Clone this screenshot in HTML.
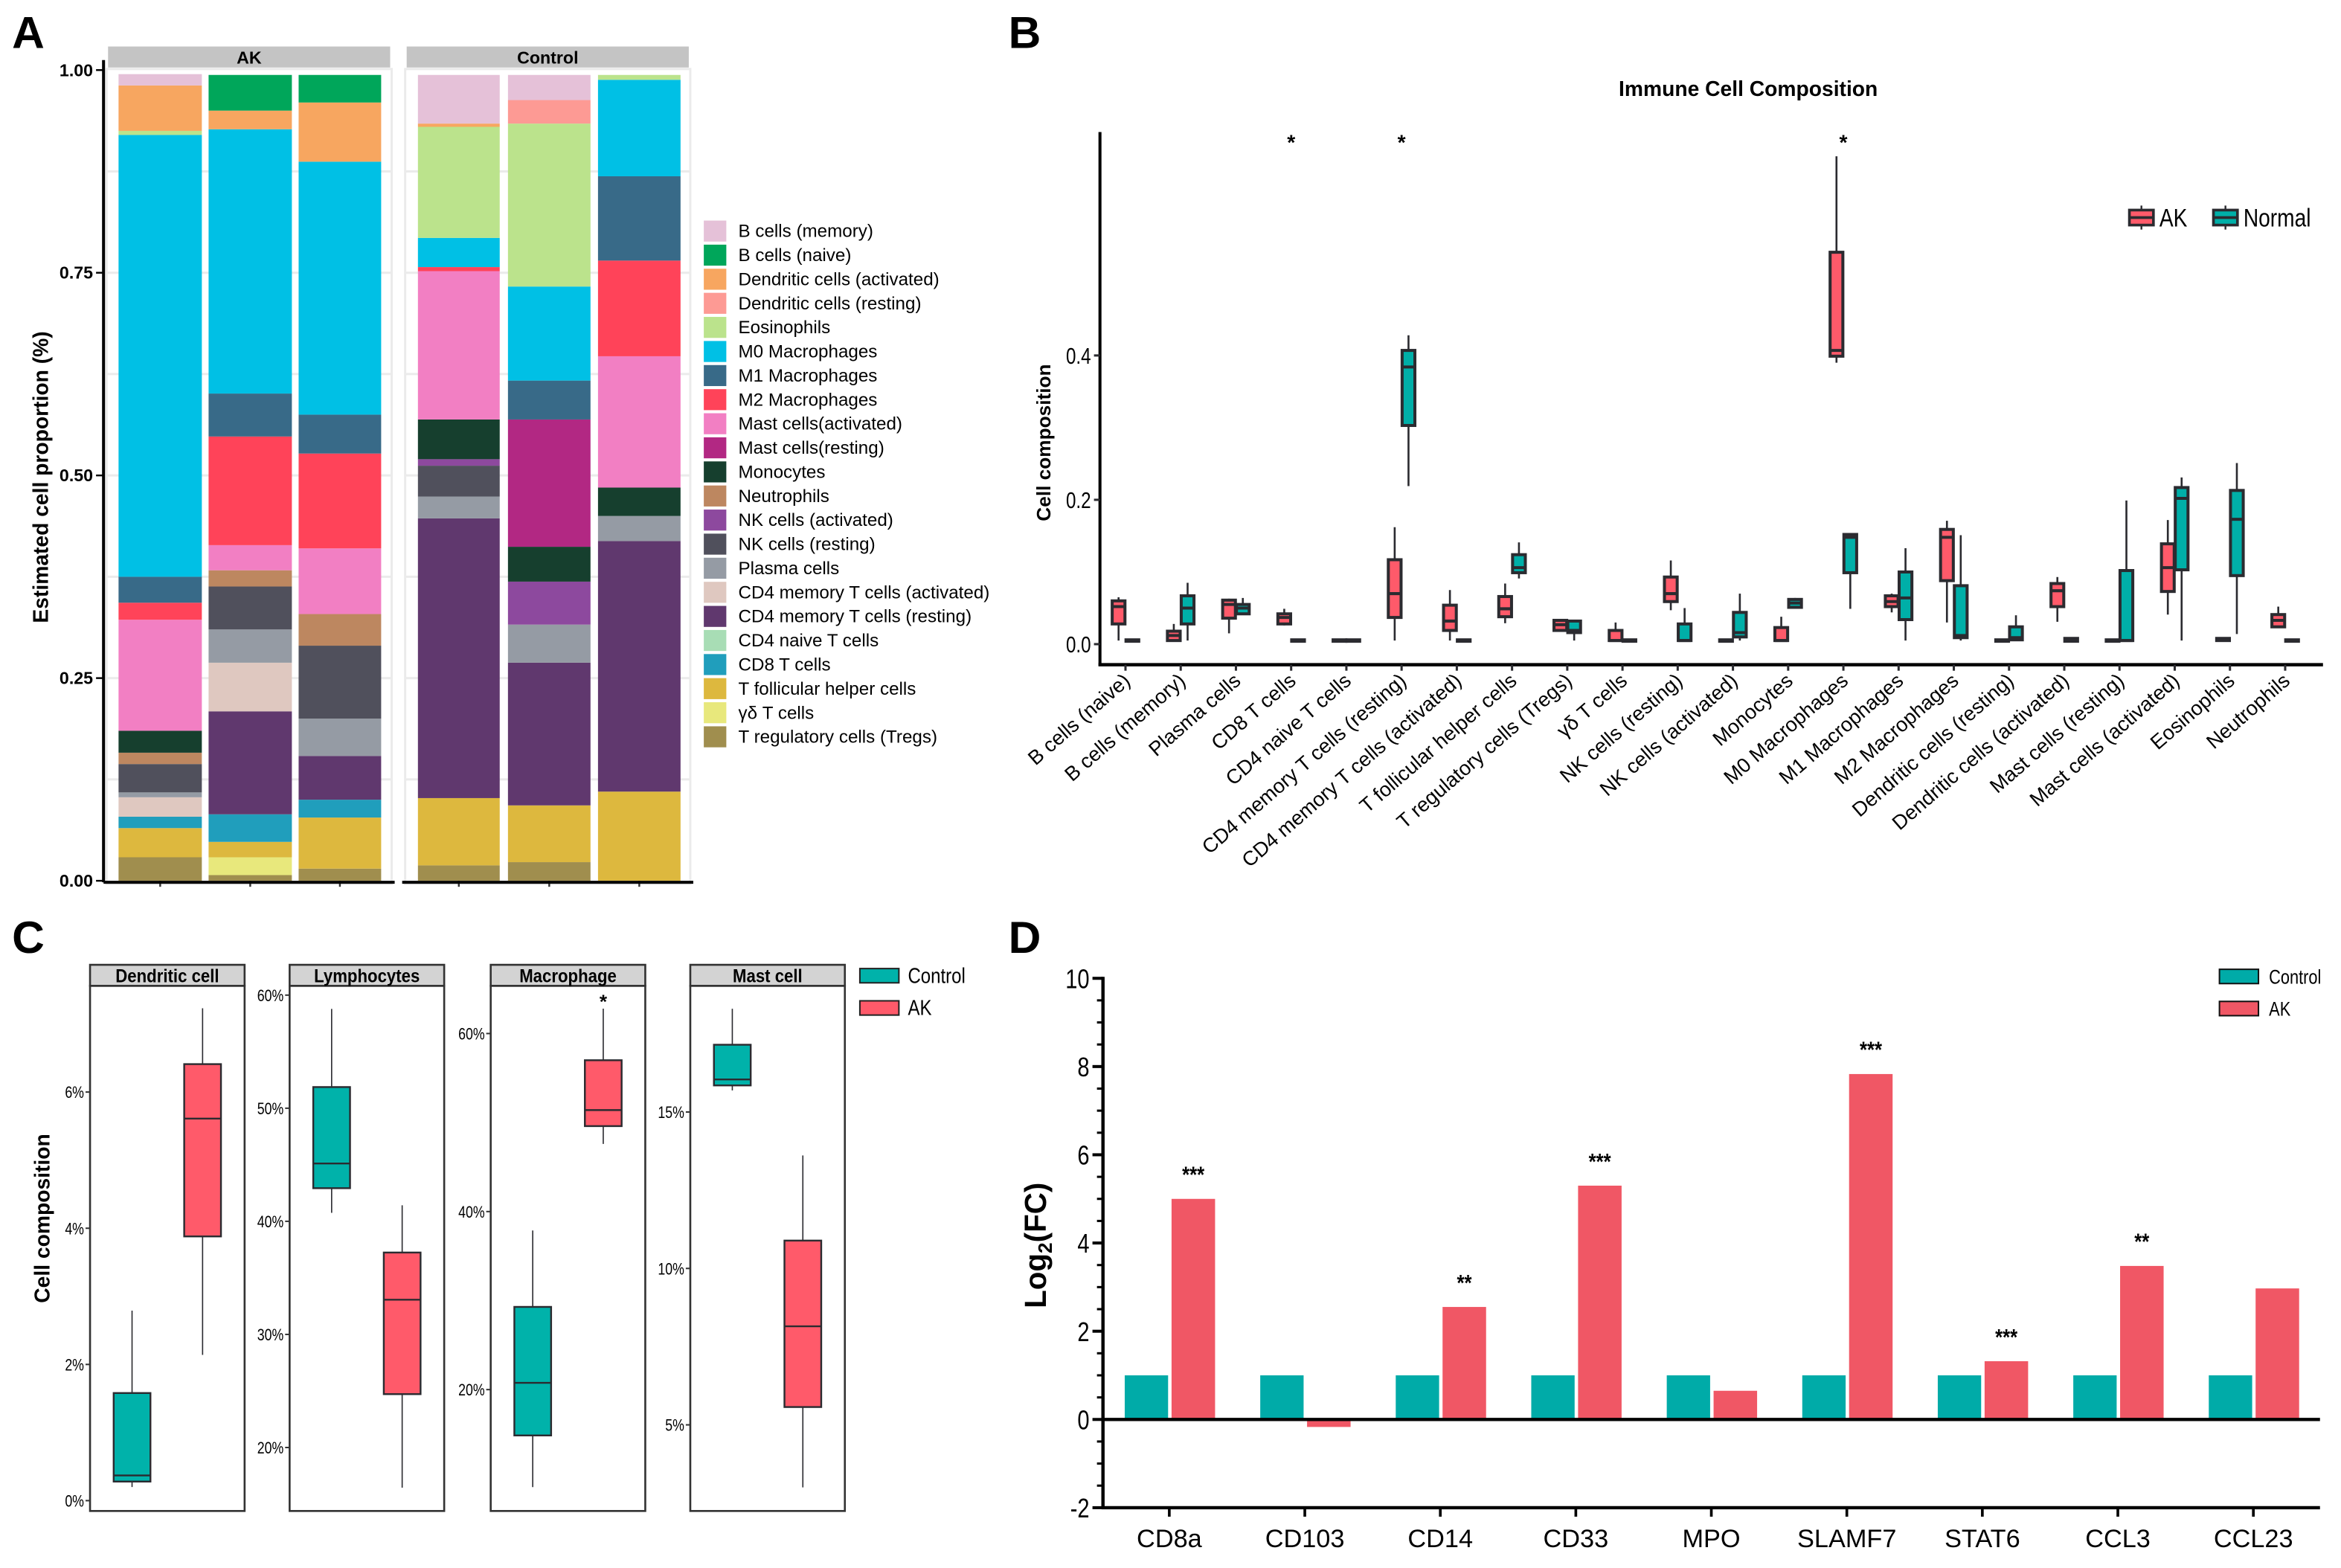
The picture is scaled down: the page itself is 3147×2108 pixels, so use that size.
<!DOCTYPE html>
<html><head><meta charset="utf-8"><title>Immune cell figure</title>
<style>
html,body{margin:0;padding:0;background:#fff;}
svg{display:block;font-family:"Liberation Sans",sans-serif;}
</style></head>
<body>
<svg id="fig" xmlns="http://www.w3.org/2000/svg" width="3147" height="2108" viewBox="0 0 1560 1045" preserveAspectRatio="none"></svg>
<script>
// ---------- Panel A data ----------
const cellTypes = ["B cells (memory)","B cells (naive)","Dendritic cells (activated)","Dendritic cells (resting)","Eosinophils","M0 Macrophages","M1 Macrophages","M2 Macrophages","Mast cells(activated)","Mast cells(resting)","Monocytes","Neutrophils","NK cells (activated)","NK cells (resting)","Plasma cells","CD4 memory T cells (activated)","CD4 memory T cells (resting)","CD4 naive T cells","CD8 T cells","T follicular helper cells","γδ T cells","T regulatory cells (Tregs)"];
const cellColors = ["#E5C1D8","#00A65A","#F7A660","#FD9A94","#BBE38C","#00C0E5","#386A88","#FF4359","#F27FC3","#B22883","#163F2E","#BD8760","#8D499E","#50505C","#959BA4","#DFC8C0","#60386E","#A8DDB5","#209EBC","#DDB83E","#E8E87C","#A08E4E"];
const sampleAK1 = [0.014,0,0.056,0,0.005,0.545,0.032,0.021,0.137,0,0.027,0.014,0,0.035,0.006,0.024,0,0,0.014,0.036,0,0.029];
const sampleAK2 = [0,0.044,0.023,0,0,0.326,0.053,0.134,0.031,0,0,0.020,0,0.053,0.041,0.060,0.127,0,0.034,0.019,0.022,0.007];
const sampleAK3 = [0,0.034,0.073,0,0,0.312,0.048,0.117,0.081,0,0,0.039,0,0.090,0.046,0,0.054,0,0.022,0.063,0,0.015];
const sampleC1 = [0.060,0,0.004,0,0.137,0.036,0,0.005,0.183,0,0.049,0,0.008,0.038,0.027,0,0.345,0,0,0.083,0,0.019];
const sampleC2 = [0.031,0,0,0.029,0.201,0.116,0.048,0,0,0.157,0.043,0,0.053,0,0.047,0,0.176,0,0,0.070,0,0.023];
const sampleC3 = [0,0,0,0,0.006,0.119,0.104,0.118,0.162,0,0.035,0,0,0,0.031,0,0.309,0,0,0.110,0,0];
const yTicksA = [0,0.25,0.5,0.75,1];
const yTickLabelsA = ["0.00","0.25","0.50","0.75","1.00"];

// ---------- Panel B data ----------
const catsB = ["B cells (naive)","B cells (memory)","Plasma cells","CD8 T cells","CD4 naive T cells","CD4 memory T cells (resting)","CD4 memory T cells (activated)","T follicular helper cells","T regulatory cells (Tregs)","γδ T cells","NK cells (resting)","NK cells (activated)","Monocytes","M0 Macrophages","M1 Macrophages","M2 Macrophages","Dendritic cells (resting)","Dendritic cells (activated)","Mast cells (resting)","Mast cells (activated)","Eosinophils","Neutrophils"];
const boxAK = [[0.005,0.028,0.052,0.060,0.065],[0.005,0.005,0.012,0.018,0.028],[0.015,0.036,0.055,0.061,0.063],[0.026,0.028,0.037,0.042,0.049],[0.004,0.004,0.005,0.006,0.006],[0.005,0.037,0.070,0.117,0.162],[0.005,0.019,0.032,0.054,0.075],[0.029,0.038,0.049,0.066,0.084],[0.019,0.019,0.027,0.033,0.034],[0.005,0.005,0.005,0.019,0.030],[0.047,0.059,0.070,0.093,0.116],[0.004,0.004,0.005,0.006,0.006],[0.005,0.005,0.005,0.023,0.038],[0.390,0.399,0.407,0.543,0.676],[0.044,0.052,0.059,0.067,0.070],[0.030,0.088,0.148,0.159,0.171],[0.004,0.004,0.005,0.006,0.006],[0.031,0.052,0.074,0.084,0.093],[0.004,0.004,0.005,0.006,0.006],[0.041,0.073,0.106,0.139,0.172],[0.004,0.005,0.006,0.008,0.008],[0.023,0.024,0.033,0.041,0.052]];
const boxNormal = [[0.004,0.004,0.005,0.006,0.006],[0.005,0.028,0.050,0.067,0.085],[0.042,0.042,0.050,0.055,0.064],[0.004,0.004,0.005,0.006,0.006],[0.004,0.004,0.005,0.006,0.006],[0.219,0.303,0.384,0.407,0.428],[0.004,0.004,0.005,0.006,0.006],[0.091,0.099,0.106,0.124,0.141],[0.005,0.016,0.019,0.032,0.034],[0.004,0.004,0.005,0.006,0.006],[0.005,0.005,0.005,0.028,0.050],[0.005,0.010,0.016,0.044,0.070],[0.050,0.051,0.057,0.062,0.064],[0.049,0.099,0.148,0.152,0.153],[0.005,0.034,0.064,0.100,0.133],[0.005,0.009,0.012,0.081,0.151],[0.005,0.006,0.009,0.024,0.040],[0.004,0.004,0.006,0.008,0.009],[0.005,0.005,0.005,0.102,0.199],[0.005,0.103,0.202,0.217,0.231],[0.014,0.095,0.173,0.213,0.251],[0.004,0.004,0.005,0.006,0.006]];
const starsB = [3,5,13];
const yTicksB = [0,0.2,0.4];
const yTickLabelsB = ["0.0","0.2","0.4"];

// ---------- Panel C data ----------
const facetsC = ["Dendritic cell","Lymphocytes","Macrophage","Mast cell"];
const boxCControl = [[0.2,0.28,0.37,1.58,2.79],[40.75,42.93,45.11,51.87,58.78],[9.04,14.85,20.76,29.29,37.87],[15.69,15.85,16.04,17.15,18.30]];
const boxCAK = [[2.14,3.88,5.61,6.41,7.23],[16.45,24.72,33.07,37.24,41.42],[47.6,49.6,51.4,57.0,62.8],[3.0,5.57,8.15,10.89,13.61]];
const yTicksC = [[0,2,4,6],[20,30,40,50,60],[20,40,60],[5,10,15]];
const starsC = [2];

// ---------- Panel D data ----------
const genesD = ["CD8a","CD103","CD14","CD33","MPO","SLAMF7","STAT6","CCL3","CCL23"];
const controlD = [1,1,1,1,1,1,1,1,1];
const akD = [5.0,-0.17,2.55,5.3,0.65,7.83,1.32,3.48,2.97];
const starsD = ["***","","**","***","","***","***","**",""];
const yTicksD = [-2,0,2,4,6,8,10];

const svg = document.getElementById('fig');
const NS = "http://www.w3.org/2000/svg";
function mk(tag, attrs, parent){
  const e = document.createElementNS(NS, tag);
  for (const k in attrs) e.setAttribute(k, attrs[k]);
  (parent||svg).appendChild(e);
  return e;
}
function txt(s, x, y, attrs, parent, sx){
  const g = mk('g', {transform:`translate(${x},${y}) scale(${sx||1},1)`}, parent);
  const t = mk('text', Object.assign({x:0,y:0}, attrs), g);
  t.textContent = s;
  return t;
}
const RED = "#FF5A6A", TEAL = "#00AFA8", DARK = "#2B2B30";

// ---------- panel letters ----------
[["A",8,32],["B",672,32],["C",8,635],["D",672,635]].forEach(p=>{
  const t = txt(p[0], p[1], p[2], {"font-size":30,"font-weight":"bold",fill:"#000"});
  
  
});

// ================= Panel A =================
const gA = mk('g', {});


const yA0 = 587, yA1 = 46.7;
const yA = v => yA0 - v*(yA0-yA1);
const facetsA = [{name:"AK", x0:71, x1:261, bars:[[79,134.5,sampleAK1],[139,194.5,sampleAK2],[199,254,sampleAK3]]},
                 {name:"Control", x0:270, x1:460, bars:[[278.5,333,sampleC1],[338.5,393.5,sampleC2],[398.5,453.5,sampleC3]]}];
facetsA.forEach((f,fi)=>{
  const bg = mk('rect',{x:f.x0,y:46,width:f.x1-f.x0,height:yA0-46+2,fill:"#fff",stroke:"#EBEBEB","stroke-width":1.5},gA);
  
  
  for (let v=0.125; v<1; v+=0.125){
    const gl = mk('line',{x1:f.x0,x2:f.x1,y1:yA(v),y2:yA(v),stroke:"#EBEBEB","stroke-width":1.5},gA);
    
    
  }
  const st = mk('rect',{x:f.x0+1,y:31,width:f.x1-f.x0-2,height:14,fill:"#C4C4C4"},gA);
  
  
  const stt = txt(f.name,(f.x0+f.x1)/2,42.5,{"font-size":11.5,"font-weight":"bold","text-anchor":"middle"},gA);
  
  
  f.bars.forEach((b,bi)=>{
    let cum = 0;
    for (let i=cellTypes.length-1;i>=0;i--){
      const v = b[2][i];
      if (v<=0) continue;
      const r = mk('rect',{x:b[0],y:yA(cum+v),width:b[1]-b[0],height:yA(cum)-yA(cum+v),fill:cellColors[i]},gA);
      
      
      cum += v;
    }
    const tk = mk('line',{x1:(b[0]+b[1])/2,x2:(b[0]+b[1])/2,y1:yA0,y2:yA0+4,stroke:"#333","stroke-width":1.2},gA);
    
    
  });
  const ax = mk('line',{x1:fi===0?69:268,x2:f.x1+2,y1:yA0+1,y2:yA0+1,stroke:"#000","stroke-width":2},gA);
  
  
});
const yaxA = mk('line',{x1:69,x2:69,y1:40,y2:588,stroke:"#000","stroke-width":2},gA);


yTicksA.forEach((v,i)=>{
  const l = mk('line',{x1:64,x2:69,y1:yA(v),y2:yA(v),stroke:"#000","stroke-width":1.2},gA);
  
  
  const t = txt(yTickLabelsA[i],62,yA(v)+4,{"font-size":11.5,"font-weight":"bold","text-anchor":"end"},gA);
  
  
});
const ylA = mk('text',{x:0,y:0,transform:"translate(32,318) rotate(-90)","font-size":14,"font-weight":"bold","text-anchor":"middle"},gA);
ylA.textContent = "Estimated cell proportion (%)";


cellTypes.forEach((c,i)=>{
  const y = 147 + i*16.05;
  const sw = mk('rect',{x:469,y:y,width:15,height:14,fill:cellColors[i]},gA);
  
  
  const t = txt(c,492,y+11,{"font-size":12},gA);
  
  
});

// ================= Panel B =================
const gB = mk('g', {});


const yB0 = 429.3, yBs = 481;
const yB = v => yB0 - v*yBs;
const xB = i => 750 + i*36.8;
const ttlB = txt("Immune Cell Composition",1165,64,{"font-size":14,"font-weight":"bold","text-anchor":"middle"},gB);


const yaxB = mk('line',{x1:733,x2:733,y1:88,y2:443.8,stroke:"#000","stroke-width":2},gB);


const xaxB = mk('line',{x1:732,x2:1548,y1:443,y2:443,stroke:"#000","stroke-width":2.2},gB);


yTicksB.forEach((v,i)=>{
  const l = mk('line',{x1:729,x2:733,y1:yB(v),y2:yB(v),stroke:DARK,"stroke-width":1.5},gB);
  
  
  const t = txt(yTickLabelsB[i],727,yB(v)+5.5,{"font-size":15,"text-anchor":"end"},gB,0.8);
  
  
});
const ylB = mk('text',{x:0,y:0,transform:"translate(700,295) rotate(-90)","font-size":13,"font-weight":"bold","text-anchor":"middle"},gB);
ylB.textContent = "Cell composition";


function drawBox(g, cx, w, s, fill, yf, sw, ww){
  const wl = mk('line',{x1:cx,x2:cx,y1:yf(s[0]),y2:yf(s[4]),stroke:DARK,"stroke-width":ww},g);
  
  
  const h = Math.max(yf(s[1])-yf(s[3]),0.01);
  const r = mk('rect',{x:cx-w/2,y:yf(s[3]),width:w,height:h,fill:fill,stroke:DARK,"stroke-width":sw},g);
  
  
  const m = mk('line',{x1:cx-w/2,x2:cx+w/2,y1:yf(s[2]),y2:yf(s[2]),stroke:DARK,"stroke-width":sw},g);
  
  
}
catsB.forEach((c,i)=>{
  drawBox(gB, xB(i)-4.6, 8.5, boxAK[i], RED, yB, 2, 1.3);
  drawBox(gB, xB(i)+4.6, 8.5, boxNormal[i], TEAL, yB, 2, 1.3);
  const tk = mk('line',{x1:xB(i),x2:xB(i),y1:443,y2:447,stroke:DARK,"stroke-width":1.5},gB);
  
  
  const t = mk('text',{x:0,y:0,transform:`translate(${xB(i)+4},${455}) rotate(-41)`,"font-size":13.5,"text-anchor":"end"},gB);
  t.textContent = c;
  
  
});
starsB.forEach(i=>{
  const t = txt("*",xB(i),100,{"font-size":14,"font-weight":"bold","text-anchor":"middle"},gB);
  
  
});
[["AK",1419,RED],["Normal",1475,TEAL]].forEach(l=>{
  const g = mk('g',{},gB);
  
  
  const v = mk('line',{x1:l[1]+8,x2:l[1]+8,y1:137,y2:153,stroke:DARK,"stroke-width":1.2},g);
  
  
  const r = mk('rect',{x:l[1],y:140,width:16,height:10,fill:l[2],stroke:DARK,"stroke-width":1.8},g);
  
  
  const m = mk('line',{x1:l[1],x2:l[1]+16,y1:145,y2:145,stroke:DARK,"stroke-width":1.8},g);
  
  
  const t = txt(l[0],l[1]+20,151,{"font-size":17},g,0.82);
  
  
});

// ================= Panel C =================
const gC = mk('g', {});


const panelX0C = [60,193,327,460];
const panelWC = 103;
facetsC.forEach((f,fi)=>{
  const x0 = panelX0C[fi];
  const tickYs = [[1000.1,909.4,818.7,727.8],[964.7,889.4,814.1,738.8,663.2],[926.1,807.5,688.8],[949.6,845.4,741.1]][fi];
  const tv = yTicksC[fi];
  const scale = (tickYs[0]-tickYs[tickYs.length-1])/(tv[tv.length-1]-tv[0]);
  const yf = v => tickYs[0] - (v-tv[0])*scale;
  const pr = mk('rect',{x:x0,y:657,width:panelWC,height:350,fill:"#fff",stroke:"#333","stroke-width":1.3},gC);
  
  
  const st = mk('rect',{x:x0,y:643,width:panelWC,height:14,fill:"#D3D3D3",stroke:"#333","stroke-width":1.3},gC);
  
  
  const stt = txt(f,x0+panelWC/2,654.5,{"font-size":12.5,"font-weight":"bold","text-anchor":"middle"},gC,0.88);
  
  
  tv.forEach((v,i)=>{
    const l = mk('line',{x1:x0-3,x2:x0,y1:yf(v),y2:yf(v),stroke:"#333","stroke-width":1},gC);
    
    
    const t = txt(v+"%",x0-4,yf(v)+4,{"font-size":11,"text-anchor":"end"},gC,0.8);
    
    
  });
  drawBox(gC, x0+28, 24.5, boxCControl[fi], "#00B2AA", yf, 1.2, 0.8);
  drawBox(gC, x0+75, 24.5, boxCAK[fi], RED, yf, 1.2, 0.8);
  if (starsC.indexOf(fi)>=0){
    const s = txt("*",x0+75,672,{"font-size":13,"font-weight":"bold","text-anchor":"middle"},gC);
    
    
  }
});
const ylC = mk('text',{x:0,y:0,transform:"translate(33,812) rotate(-90)","font-size":14,"font-weight":"bold","text-anchor":"middle"},gC);
ylC.textContent = "Cell composition";


[["Control",645.5,"#00B2AA"],["AK",667,RED]].forEach(l=>{
  const r = mk('rect',{x:573,y:l[1],width:26,height:9.5,fill:l[2],stroke:"#222","stroke-width":1},gC);
  
  
  const t = txt(l[0],605,l[1]+9.5,{"font-size":14},gC,0.85);
  
  
});

// ================= Panel D =================
const gD = mk('g', {});


const yD0 = 946, yDs = 29.4;
const yD = v => yD0 - v*yDs;
const xD = i => 779.2 + i*90.3;
const yaxD = mk('line',{x1:735,x2:735,y1:yD(10)-1,y2:yD(-2)+1,stroke:"#000","stroke-width":2.2},gD);


for (let v=-2; v<=10.001; v+=0.5){
  const major = Math.abs(v-Math.round(v/2)*2)<1e-6;
  const l = mk('line',{x1:major?728:731,x2:735,y1:yD(v),y2:yD(v),stroke:"#000","stroke-width":major?2:1.5},gD);
  
  
}
yTicksD.forEach(v=>{
  const t = txt(String(v),726,yD(v)+6.5,{"font-size":18,"text-anchor":"end"},gD,0.8);
  
  
});
genesD.forEach((g,i)=>{
  const c = mk('rect',{x:xD(i)-29.7,y:Math.min(yD(controlD[i]),yD0),width:28.9,height:Math.abs(yD(controlD[i])-yD0),fill:"#00ABA8"},gD);
  
  
  const a = mk('rect',{x:xD(i)+1.5,y:Math.min(yD(akD[i]),yD0),width:29,height:Math.abs(yD(akD[i])-yD0),fill:"#F05765"},gD);
  
  
  if (starsD[i]){
    const s = txt(starsD[i],xD(i)+16,yD(akD[i])-11,{"font-size":15,"font-weight":"bold","text-anchor":"middle"},gD,0.85);
    
    
  }
  const tk = mk('line',{x1:xD(i),x2:xD(i),y1:yD(-2),y2:yD(-2)+6,stroke:"#000","stroke-width":1.8},gD);
  
  
  const t = txt(g,xD(i),1031,{"font-size":17,"text-anchor":"middle"},gD,1);
  
  
});
const zl = mk('line',{x1:734,x2:1546,y1:yD0,y2:yD0,stroke:"#000","stroke-width":2.2},gD);


const xaxD = mk('line',{x1:734,x2:1546,y1:yD(-2),y2:yD(-2),stroke:"#000","stroke-width":2.2},gD);


const ylD = mk('text',{x:0,y:0,transform:"translate(697,830) rotate(-90)","font-size":20,"font-weight":"bold","text-anchor":"middle"},gD);
ylD.textContent = "Log";
const sub = mk('tspan',{"font-size":13,dy:4},ylD);
sub.textContent = "2";
const rest = mk('tspan',{dy:-4},ylD);
rest.textContent = "(FC)";


[["Control",646,"#00ABA8"],["AK",667.4,"#F05765"]].forEach(l=>{
  const r = mk('rect',{x:1479,y:l[1],width:26,height:9.5,fill:l[2],stroke:"#111","stroke-width":1},gD);
  
  
  const t = txt(l[0],1512,l[1]+9.5,{"font-size":13.5},gD,0.8);
  
  
});
</script>
</body></html>
